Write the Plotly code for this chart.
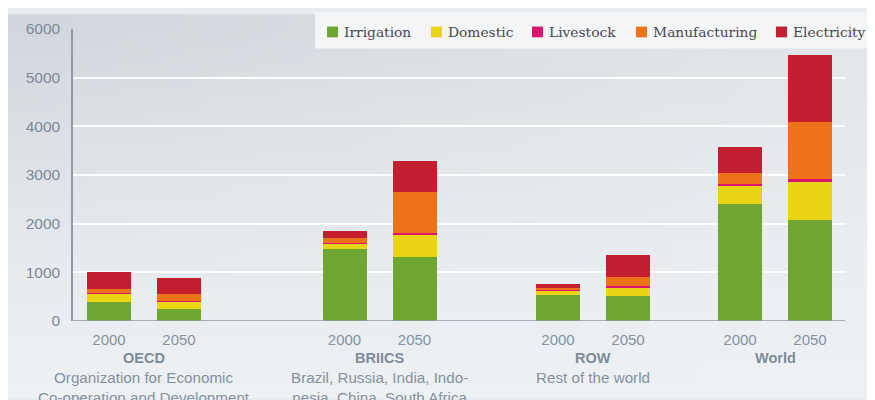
import base64
import struct
import zlib
import plotly.graph_objects as go

# ---------------- data ----------------
groups = ["OECD", "BRIICS", "ROW", "World"]
group_desc = [
    "Organization for Economic<br>Co-operation and Development",
    "Brazil, Russia, India, Indo-<br>nesia, China, South Africa",
    "Rest of the world",
    "",
]
years = ["2000", "2050"]

series_names = ["Irrigation", "Domestic", "Livestock", "Manufacturing", "Electricity"]
# values ordered: OECD 2000, OECD 2050, BRIICS 2000, BRIICS 2050, ROW 2000, ROW 2050, World 2000, World 2050
irrigation = [400, 240, 1470, 1310, 540, 510, 2400, 2070]
domestic = [160, 160, 120, 460, 90, 180, 370, 800]
livestock = [10, 10, 20, 30, 15, 20, 45, 40]
manufacturing = [90, 150, 100, 860, 40, 200, 230, 1170]
electricity = [340, 330, 140, 620, 80, 440, 540, 1390]
series_values = [irrigation, domestic, livestock, manufacturing, electricity]

y_ticks = [0, 1000, 2000, 3000, 4000, 5000, 6000]

# ---------------- style / layout ----------------
colors = ["#6fa632", "#e9d415", "#dc1470", "#ee7217", "#c31f31"]
group_centers = [71, 306.5, 520, 702]   # x-axis units (axis spans 0..772)
year_offset = 35
bar_width = 44

# page has an 8px body margin, so the figure starts at (8, 8)
W, H = 867, 392
m_l, m_r, m_t, m_b = 65, 30, 15, 79

x_pos = []
x_lab = []
for gc in group_centers:
    for k, yr in enumerate(years):
        x_pos.append(gc + (k - 0.5) * 2 * year_offset)
        x_lab.append(yr)


# gradient background as a small png (stretched smoothly)
def make_png(w, h, pix):
    raw = b""
    for row in pix:
        raw += b"\x00" + bytes([c for p in row for c in p])

    def chunk(tag, data):
        c = struct.pack(">I", len(data)) + tag + data
        return c + struct.pack(">I", zlib.crc32(tag + data) & 0xFFFFFFFF)

    png = b"\x89PNG\r\n\x1a\n"
    png += chunk(b"IHDR", struct.pack(">IIBBBBB", w, h, 8, 2, 0, 0, 0))
    png += chunk(b"IDAT", zlib.compress(raw))
    png += chunk(b"IEND", b"")
    return "data:image/png;base64," + base64.b64encode(png).decode()


top_left = (210, 215, 221)
bottom = (238, 241, 244)
gw, gh = 32, 16
pix = []
for j in range(gh):
    ty = j / (gh - 1)
    row = []
    for i in range(gw):
        tx = i / (gw - 1)
        f = (1 - ty) ** 1.2 * (1 - 0.55 * tx)
        row.append(tuple(int(round(b + (t - b) * f)) for t, b in zip(top_left, bottom)))
    pix.append(row)
bg_uri = make_png(gw, gh, pix)

pw = W - m_l - m_r
ph = H - m_t - m_b

fig = go.Figure()
for name, vals, col in zip(series_names, series_values, colors):
    fig.add_trace(go.Bar(
        x=x_pos, y=vals, name=name, width=bar_width,
        marker=dict(color=col, line=dict(width=0)),
        showlegend=False,
    ))

fig.update_layout(
    width=W, height=H,
    margin=dict(l=m_l, r=m_r, t=m_t, b=m_b, pad=0),
    barmode="stack",
    paper_bgcolor="#e8ebef",
    plot_bgcolor="rgba(0,0,0,0)",
    font=dict(family="Liberation Sans, Arial, sans-serif", size=15, color="#8391a0"),
    images=[dict(source=bg_uri, xref="paper", yref="paper",
                 x=-m_l / pw, y=1 + m_t / ph,
                 sizex=W / pw, sizey=H / ph,
                 xanchor="left", yanchor="top", sizing="stretch", layer="below")],
    xaxis=dict(range=[0, 772], tickvals=x_pos, ticktext=x_lab,
               showgrid=False, zeroline=False, showline=False,
               tickfont=dict(size=15, color="#8593a2"), ticks="",
               ticklabelstandoff=8),
    yaxis=dict(range=[0, 6000], tickvals=y_ticks, ticks="",
               showgrid=True, gridcolor="rgba(255,255,255,0.95)", gridwidth=1.5,
               zeroline=False, showline=True, linecolor="#8e9aa7", linewidth=1.5,
               tickfont=dict(size=15.5, color="#7c8997"), ticklabelstandoff=8),
)

# baseline
fig.add_shape(type="line", xref="paper", yref="y", x0=0, x1=1, y0=0, y1=0,
              line=dict(color="#8e9aa7", width=1.5), layer="above")

# group labels
for g, d, gc in zip(groups, group_desc, group_centers):
    fig.add_annotation(x=gc, y=0, xref="x", yref="y", yanchor="middle", xanchor="center",
                       yshift=-37, text="<b>" + g + "</b>", showarrow=False,
                       font=dict(size=14.5, color="#7e8c9a"))
    if d:
        fig.add_annotation(x=gc, y=0, xref="x", yref="y", yanchor="top", xanchor="center",
                           yshift=-46, text=d, showarrow=False, align="center",
                           font=dict(size=15.2, color="#8492a1"))

# legend box (manual, above plot); positions in figure pixels
px_to_x = lambda px: (px - m_l) / pw
px_to_y = lambda py: (H - m_b - py) / ph
fig.add_shape(type="rect", xref="paper", yref="paper",
              x0=px_to_x(307), x1=px_to_x(W + 2), y0=px_to_y(35), y1=px_to_y(-2),
              fillcolor="#f4f5f7", line=dict(width=0), layer="above")
legend_sq = [319, 423, 524, 628, 768]
for name, col, sx in zip(series_names, colors, legend_sq):
    fig.add_shape(type="rect", xref="paper", yref="paper",
                  x0=px_to_x(sx), x1=px_to_x(sx + 11), y0=px_to_y(23.5), y1=px_to_y(12.5),
                  fillcolor=col, line=dict(width=0), layer="above")
    fig.add_annotation(x=px_to_x(sx + 15), y=px_to_y(18), xref="paper", yref="paper",
                       xanchor="left", yanchor="middle", text=name, showarrow=False,
                       font=dict(family="DejaVu Serif, Georgia, serif", size=13.8, color="#45494f"))

fig.write_html("out.html")
